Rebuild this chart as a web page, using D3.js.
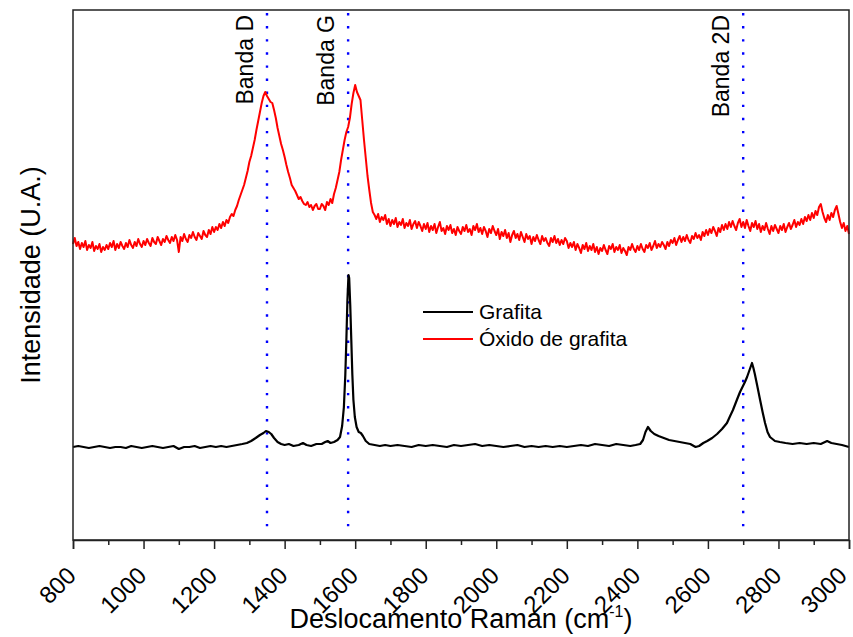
<!DOCTYPE html>
<html>
<head>
<meta charset="utf-8">
<script src="https://cdn.jsdelivr.net/npm/d3@7"></script>
<style>
  body { margin: 0; background: #fff; }
  svg { display: block; font-family: "Liberation Sans", Arial, sans-serif; }
</style>
</head>
<body>
<script>
// Raman spectra: grafita vs óxido de grafita
const xTicks = [800, 1000, 1200, 1400, 1600, 1800, 2000, 2200, 2400, 2600, 2800, 3000];
const bands = [
  {name: "Banda D", shift: 1350},
  {name: "Banda G", shift: 1580},
  {name: "Banda 2D", shift: 2700}
];
const seriesNames = ["Grafita", "Óxido de grafita"];
const seriesColors = ["#000000", "#ff0000"];

// óxido de grafita, one value every 5 cm-1 from 800 to 3000 (arbitrary units)
const oxidoShift = d3.range(800, 3001, 5);
const oxidoIntensity = [
  296, 302, 294, 298, 291, 297, 293, 299, 290, 295, 292, 298, 289, 294, 291, 296, 288, 293, 290, 295,
  291, 297, 293, 299, 290, 296, 292, 298, 294, 291, 297, 293, 300, 295, 292, 298, 294, 301, 296, 293,
  299, 295, 301, 297, 294, 302, 298, 296, 303, 299, 295, 301, 298, 304, 300, 297, 303, 299, 305, 300,
  288, 303, 299, 306, 301, 298, 305, 302, 308, 303, 300, 307, 304, 301, 309, 305, 303, 310, 306, 313,
  308, 313, 310, 316, 312, 318, 314, 320, 317, 323, 326, 324, 330, 334, 340, 345, 350, 355, 362, 369,
  378, 384, 392, 400, 410, 419, 428, 437, 444, 448, 444, 441, 438, 437, 430, 422, 412, 404, 396, 390,
  383, 375, 368, 362, 355, 352, 349, 345, 341, 343, 339, 336, 335, 338, 333, 335, 330, 334, 336, 331,
  331, 336, 334, 330, 338, 335, 341, 337, 346, 352, 360, 368, 380, 390, 400, 408, 413, 422, 436, 447,
  455, 448, 444, 440, 420, 400, 382, 364, 350, 337, 328, 325, 321, 326, 318, 323, 320, 325, 316, 321,
  314, 320, 316, 322, 313, 318, 315, 321, 312, 317, 314, 320, 311, 316, 319, 312, 318, 314, 309, 316,
  311, 317, 308, 314, 310, 316, 307, 313, 318, 309, 312, 306, 314, 310, 315, 307, 311, 305, 313, 309,
  306, 313, 309, 315, 308, 311, 305, 314, 310, 316, 308, 312, 306, 313, 309, 303, 311, 307, 314, 309,
  305, 311, 301, 308, 304, 310, 302, 307, 298, 305, 309, 302, 306, 300, 308, 303, 298, 306, 301, 304,
  296, 303, 299, 305, 300, 296, 304, 299, 302, 297, 294, 302, 298, 304, 297, 301, 295, 300, 296, 302,
  299, 292, 297, 293, 298, 290, 296, 292, 287, 295, 291, 297, 289, 294, 290, 296, 288, 293, 286, 292,
  289, 295, 290, 286, 294, 291, 296, 288, 293, 290, 295, 287, 292, 289, 285, 293, 290, 296, 291, 288,
  294, 290, 296, 291, 288, 295, 292, 297, 290, 294, 299, 292, 296, 293, 298, 295, 291, 298, 294, 300,
  297, 302, 295, 300, 304, 298, 303, 299, 305, 300, 297, 304, 301, 307, 302, 305, 300, 308, 304, 310,
  305, 311, 307, 313, 309, 304, 312, 308, 315, 310, 316, 311, 318, 313, 319, 314, 310, 317, 321, 313,
  318, 312, 320, 314, 309, 317, 313, 319, 311, 316, 308, 314, 310, 317, 311, 306, 314, 309, 315, 311,
  307, 314, 310, 316, 308, 313, 317, 311, 315, 320, 313, 318, 315, 321, 316, 323, 319, 325, 320, 327,
  322, 329, 325, 333, 336, 328, 322, 318, 325, 320, 327, 323, 330, 334, 326, 318, 312, 317, 309, 314,
  306
];

// grafita, [shift, intensity]
const grafita = [
  [800,93],[815,94],[830,93],[845,92],[860,93],[875,94],[890,93],[905,92],[920,93],[935,93],
  [950,92],[965,94],[980,93],[995,92],[1010,93],[1025,94],[1040,93],[1055,92],[1070,93],[1085,94],
  [1100,91],[1115,93],[1130,93],[1145,94],[1160,92],[1175,93],[1190,94],[1205,93],[1220,94],[1235,93],
  [1250,94],[1265,95],[1280,96],[1293,97],[1305,99],[1318,102],[1330,105],[1340,107],[1347,109],[1355,108],
  [1362,106],[1370,102],[1380,98],[1390,96],[1400,95],[1412,96],[1425,94],[1440,95],[1452,97],[1462,95],
  [1475,94],[1490,96],[1505,96],[1515,98],[1522,99],[1530,97],[1540,98],[1550,100],[1557,103],[1563,114],
  [1568,133],[1572,165],[1575,200],[1578,240],[1581,265],[1583,262],[1586,235],[1589,200],[1592,165],[1595,140],
  [1599,123],[1604,113],[1610,108],[1616,107],[1622,104],[1630,99],[1640,96],[1655,95],[1670,94],[1685,95],
  [1700,94],[1720,95],[1740,94],[1760,93],[1780,95],[1800,94],[1820,95],[1840,94],[1860,93],[1880,95],
  [1900,94],[1920,95],[1940,96],[1960,94],[1980,95],[2000,94],[2020,93],[2040,94],[2060,95],[2080,93],
  [2100,94],[2120,93],[2140,94],[2160,93],[2180,94],[2200,93],[2220,94],[2240,95],[2260,94],[2280,96],
  [2300,95],[2320,94],[2340,96],[2360,95],[2380,94],[2395,95],[2408,96],[2416,100],[2423,108],[2430,113],
  [2438,109],[2448,106],[2460,104],[2475,102],[2490,100],[2505,99],[2520,98],[2535,97],[2550,96],[2565,93],
  [2575,94],[2587,97],[2598,99],[2612,102],[2626,106],[2640,111],[2654,117],[2663,124],[2671,130],[2682,140],
  [2691,148],[2698,153],[2705,158],[2711,163],[2716,168],[2721,173],[2725,177],[2729,172],[2733,166],[2740,154],
  [2748,140],[2755,128],[2762,117],[2769,108],[2776,103],[2790,99],[2804,98],[2820,97],[2840,96],[2860,97],
  [2880,96],[2900,97],[2920,96],[2938,99],[2950,97],[2965,96],[2980,95],[3000,93]
];

const margin = {top: 10, right: 4, bottom: 97, left: 73};
const W = 853, H = 637;
const width = W - margin.left - margin.right;
const height = H - margin.top - margin.bottom;

const svg = d3.select("body").append("svg")
  .attr("width", W)
  .attr("height", H);

const g = svg.append("g")
  .attr("transform", "translate(" + margin.left + "," + margin.top + ")");

const x = d3.scaleLinear().domain([800, 3000]).range([0, width]);
const y = d3.scaleLinear().domain([0, 530]).range([height, 0]);

// band markers
g.selectAll(".band")
  .data(bands)
  .enter().append("line")
  .attr("class", "band")
  .attr("x1", d => x(d.shift))
  .attr("x2", d => x(d.shift))
  .attr("y1", 3)
  .attr("y2", height - 13)
  .style("stroke", "#0000ff")
  .style("stroke-width", 2.4)
  .style("stroke-dasharray", "2.4,10.7");

g.selectAll(".band-label")
  .data(bands)
  .enter().append("text")
  .attr("class", "band-label")
  .attr("transform", d => "translate(" + (x(d.shift) - 14) + ",5) rotate(-90)")
  .style("text-anchor", "end")
  .style("font-size", "23px")
  .text(d => d.name);

const line = d3.line()
  .x(d => x(d[0]))
  .y(d => y(d[1]));

const oxido = oxidoShift.map((s, i) => [s, oxidoIntensity[i]]);

g.append("path")
  .datum(oxido)
  .attr("d", line)
  .style("fill", "none")
  .style("stroke", seriesColors[1])
  .style("stroke-width", 2)
  .style("stroke-linejoin", "round");

g.append("path")
  .datum(grafita)
  .attr("d", line)
  .style("fill", "none")
  .style("stroke", seriesColors[0])
  .style("stroke-width", 2.2)
  .style("stroke-linejoin", "round");

// frame
g.append("rect")
  .attr("width", width)
  .attr("height", height)
  .style("fill", "none")
  .style("stroke", "#222")
  .style("stroke-width", 1.5);

// x axis: major + minor ticks
const minor = d3.range(900, 3000, 200);
g.append("g")
  .attr("transform", "translate(0," + height + ")")
  .call(d3.axisBottom(x).tickValues(minor).tickSize(5).tickFormat(""))
  .call(a => a.select(".domain").remove())
  .selectAll("line").style("stroke", "#222").style("stroke-width", 1.5);

const xAxis = g.append("g")
  .attr("transform", "translate(0," + height + ")")
  .call(d3.axisBottom(x).tickValues(xTicks).tickSize(9).tickFormat(d3.format("d")));
xAxis.select(".domain").style("stroke", "#222").style("stroke-width", 1.5);
xAxis.selectAll("line").style("stroke", "#222").style("stroke-width", 1.5);
xAxis.selectAll("text")
  .attr("y", 0).attr("dy", 0)
  // last label would spill past the page edge
  .attr("transform", d => "translate(" + (d === 3000 ? -1 : 4) + ",37) rotate(-45)")
  .style("text-anchor", "end")
  .style("font-size", "24px")
  .style("font-family", "'Liberation Sans', Arial, sans-serif")
  .style("fill", "#000");

// axis titles
const xt = svg.append("text")
  .attr("x", margin.left + width / 2)
  .attr("y", 628)
  .style("text-anchor", "middle")
  .style("font-size", "27px");
xt.append("tspan").text("Deslocamento Raman (cm");
xt.append("tspan").attr("dy", -11).style("font-size", "16px").text("-1");
xt.append("tspan").attr("dy", 11).text(")");

svg.append("text")
  .attr("transform", "translate(40," + (margin.top + height / 2) + ") rotate(-90)")
  .style("text-anchor", "middle")
  .style("font-size", "27px")
  .text("Intensidade (U.A.)");

// legend
const legend = svg.append("g").attr("transform", "translate(423,312)");
const item = legend.selectAll(".legend")
  .data(seriesNames)
  .enter().append("g")
  .attr("class", "legend")
  .attr("transform", (d, i) => "translate(0," + i * 27 + ")");
item.append("line")
  .attr("x2", 50)
  .style("stroke", (d, i) => seriesColors[i])
  .style("stroke-width", 2);
item.append("text")
  .attr("x", 56)
  .attr("dy", "0.35em")
  .style("font-size", "21px")
  .text(d => d);
</script>
</body>
</html>
